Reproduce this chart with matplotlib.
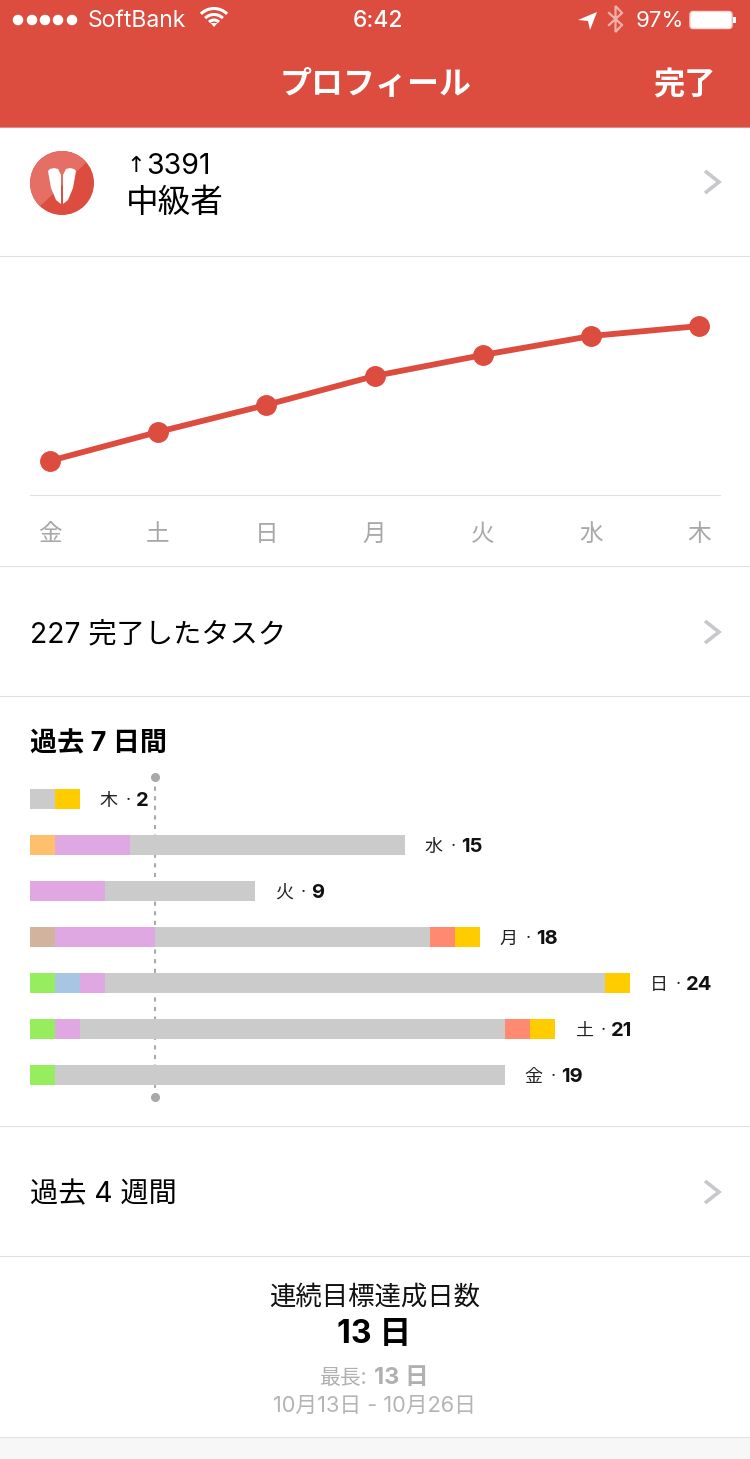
import matplotlib
matplotlib.use("Agg")
import matplotlib.pyplot as plt
from matplotlib.patches import Rectangle, Circle, Polygon, FancyBboxPatch, Ellipse, Arc

W, H = 750, 1459
JP = ['Inter', 'Noto Sans CJK JP', 'DejaVu Sans']
JPONLY = ['Noto Sans CJK JP', 'DejaVu Sans']
plt.rcParams['font.family'] = JP

# ---- data ----
score_days = ['金', '土', '日', '月', '火', '水', '木']
score_values = [34, 63, 90, 119, 140, 159, 169]

bar_days = ['木', '水', '火', '月', '日', '土', '金']
GRAY = '#cbcbcb'; YEL = '#ffcc00'; ORG = '#ffc06e'; PINK = '#e0a8e2'
TAN = '#d2b39d'; SAL = '#ff8a70'; GRN = '#96ee5e'; BLU = '#a8c6e4'
bar_segments = [
    [(1, GRAY), (1, YEL)],
    [(1, ORG), (3, PINK), (11, GRAY)],
    [(3, PINK), (6, GRAY)],
    [(1, TAN), (4, PINK), (11, GRAY), (1, SAL), (1, YEL)],
    [(1, GRN), (1, BLU), (1, PINK), (20, GRAY), (1, YEL)],
    [(1, GRN), (1, PINK), (17, GRAY), (1, SAL), (1, YEL)],
    [(1, GRN), (18, GRAY)],
]
bar_totals = [2, 15, 9, 18, 24, 21, 19]
divider_x = 5

RED = '#dc4c3f'
LINE = '#e2e2e2'

fig = plt.figure(figsize=(W / 100, H / 100), dpi=100, facecolor='white')

def px_axes(x0, y0, x1, y1, **kw):
    return fig.add_axes([x0 / W, 1 - y1 / H, (x1 - x0) / W, (y1 - y0) / H], **kw)

# ---- UI layer ----
ui = px_axes(0, 0, W, H)
ui.set_xlim(0, W); ui.set_ylim(H, 0); ui.axis('off')
ui.add_patch(Rectangle((0, 0), W, 127.5, fc=RED, ec='none'))
ui.plot([0, W], [127, 127], color='#d98f90', lw=0.8)
ui.add_patch(Rectangle((0, 1437), W, 22, fc='#f7f7f7', ec='none'))
for y in [256, 566, 696, 1126, 1256, 1436.5]:
    ui.plot([0, W], [y, y], color=LINE, lw=0.8)

def T(x, y, s, size, color='black', ha='left', weight='normal', family=JP, **kw):
    return ui.text(x, y, s, fontsize=size, color=color, ha=ha, va='center',
                   fontweight=weight, family=family, **kw)

# status bar
for x in [18, 32, 45, 58, 72]:
    ui.add_patch(Ellipse((x, 20), 10.5, 10.5, fc='white', ec='none'))
T(88, 21, 'SoftBank', 16.5, 'white')
for r in [18.5, 12.5, 7]:
    ui.add_patch(Arc((214, 27), 2 * r, 2 * r, theta1=225, theta2=315, color='white', lw=2.2))
ui.add_patch(Polygon([(214, 27), (210.5, 23), (217.5, 23)], fc='white', ec='none'))
T(377.5, 21, '6:42', 16.5, 'white', ha='center', weight='medium')
ui.add_patch(Polygon([(578, 20), (597, 12), (590, 30), (588, 21)], fc='white', ec='none'))
ui.plot([609, 622, 615.5, 615.5, 622, 609], [13, 25, 32, 6, 13, 25],
        color='#f0b1aa', lw=1.6, solid_joinstyle='miter')
T(636, 21, '97%', 16, 'white')
ui.add_patch(FancyBboxPatch((690, 11.5), 42, 17, boxstyle='round,pad=0,rounding_size=3',
                            fc='white', ec='#f6d5d1', lw=1.0))
ui.add_patch(Rectangle((733, 17), 2.5, 6, fc='white', ec='none'))

T(375.5, 85, 'プロフィール', 23, 'white', ha='center', weight='bold', family=JPONLY)
T(685, 85, '完了', 22.5, 'white', ha='center', weight='bold', family=JPONLY)

# profile row
badge = Circle((62, 183), 32, fc=RED, ec='none')
ui.add_patch(badge)
wedge = Polygon([(20, 145), (92, 145), (92, 157), (36, 210), (20, 210)], fc='#e56f64', ec='none')
ui.add_patch(wedge)
wedge.set_clip_path(badge)
ui.add_patch(Polygon([(48, 171), (50, 169), (54, 168), (58, 169), (61, 175), (61, 204),
                      (56, 200), (51, 188)], fc='white', ec='none'))
ui.add_patch(Polygon([(76, 171), (74, 169), (70, 168), (66, 169), (63, 175), (63, 204),
                      (68, 200), (73, 188)], fc='white', ec='none'))
T(126, 166, '↑', 16, family=['DejaVu Sans'])
T(146, 166, '3391', 20.5)
T(126, 203, '中級者', 23.5, family=JPONLY)

def chevron(y):
    ui.plot([705, 719, 705], [y - 11, y, y + 11], color='#c7c7cc', lw=2.6,
            solid_joinstyle='miter', solid_capstyle='butt')
for y in [182, 632, 1192]:
    chevron(y)

T(30, 635, '227 完了したタスク', 20.3, family=JP)
T(30, 744, '過去 7 日間', 19.5, weight='bold', family=JP)
T(30, 1195, '過去 4 週間', 20.3, family=JP)

T(375, 1297, '連続目標達成日数', 19, ha='center', family=JPONLY, color='#111111')
T(374, 1334, '13 日', 23, ha='center', weight='bold', family=JP)
T(320, 1378, '最長:', 15, color='#b0b0b0', family=JPONLY)
T(374, 1378, '13 日', 17, color='#b0b0b0', weight='bold', family=JP)
T(374, 1406, '10月13日 - 10月26日', 15.7, color='#b4b4b4', ha='center', family=JP)

# ---- line chart ----
ax = px_axes(29.5, 296, 719.5, 495)
ax.patch.set_alpha(0)
xs = list(range(len(score_days)))
ax.plot(xs, score_values, color=RED, lw=4.2, marker='o', ms=14, mec=RED, mfc=RED, clip_on=False)
ax.set_xlim(-20 / 108.33, 6 + 20 / 108.33)
ax.set_ylim(0, 199)
ax.set_yticks([])
ax.set_xticks(xs, score_days, family=JPONLY, fontsize=17, color='#a8a8a8')
ax.tick_params(axis='x', length=0, pad=20)
for s in ['top', 'left', 'right']:
    ax.spines[s].set_visible(False)
ax.spines['bottom'].set_color('#e2e2e2')
ax.spines['bottom'].set_linewidth(0.8)

# ---- stacked bars ----
bx = px_axes(30, 776, 730, 1098)
bx.patch.set_alpha(0)
bx.set_xlim(0, 28)
bx.set_ylim(6.0 + 23 / 46, -23 / 46)
bx.axis('off')
bx.plot([divider_x, divider_x], [bx.get_ylim()[1] + 0.02, bx.get_ylim()[0] - 0.02],
        color='#a9a9a9', lw=1.5, ls=(0, (2, 2.6)), zorder=1, clip_on=False)
bx.plot([divider_x, divider_x], [bx.get_ylim()[1] + 0.02, bx.get_ylim()[0] - 0.02],
        ls='none', marker='o', ms=5.5, color='#a9a9a9', zorder=1, clip_on=False)
for i, segs in enumerate(bar_segments):
    left = 0
    for w, c in segs:
        bx.barh(i, w, left=left, height=20 / 46, color=c, lw=0, zorder=2)
        left += w
for i, (d, t) in enumerate(zip(bar_days, bar_totals)):
    off = 19
    yo = -1.3
    bx.annotate(d, (t, i), xytext=(off * .72 + .5, yo), textcoords='offset points', fontsize=13,
                family=JPONLY, va='center', ha='left', color='#222222')
    bx.annotate('·', (t, i), xytext=((off + 27) * .72, yo), textcoords='offset points', fontsize=13,
                va='center', ha='left', color='#222222')
    bx.annotate(str(t), (t, i), xytext=((off + 37) * .72, yo), textcoords='offset points', fontsize=14.5,
                va='center', ha='left', color='#111111', fontweight='bold')

fig.savefig('out.png', dpi=100, facecolor='white')
